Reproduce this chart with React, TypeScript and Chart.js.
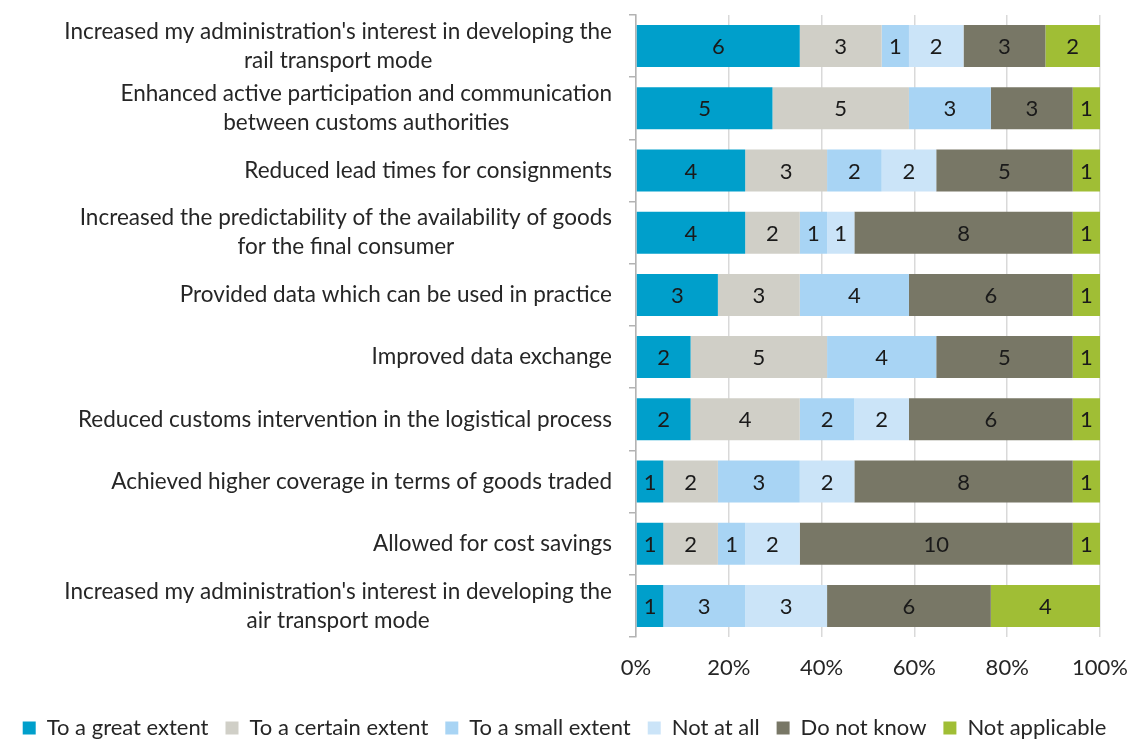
import React, { useEffect, useRef } from 'react';
import { Chart, registerables } from 'chart.js';

Chart.register(...registerables);

const categories: string[][] = [
  ["Increased my administration's interest in developing the", 'rail transport mode'],
  ['Enhanced active participation and communication', 'between customs authorities'],
  ['Reduced lead times for consignments'],
  ['Increased the predictability of the availability of goods', 'for the final consumer'],
  ['Provided data which can be used in practice'],
  ['Improved data exchange'],
  ['Reduced customs intervention in the logistical process'],
  ['Achieved higher coverage in terms of goods traded'],
  ['Allowed for cost savings'],
  ["Increased my administration's interest in developing the", 'air transport mode'],
];

const seriesNames = ['To a great extent', 'To a certain extent', 'To a small extent', 'Not at all', 'Do not know', 'Not applicable'];
const seriesColors = ['#009fcb', '#d0cfc7', '#a8d4f4', '#cbe4f8', '#787766', '#a0be35'];

const greatExtent = [6, 5, 4, 4, 3, 2, 2, 1, 1, 1];
const certainExtent = [3, 5, 3, 2, 3, 5, 4, 2, 2, 0];
const smallExtent = [1, 3, 2, 1, 4, 4, 2, 3, 1, 3];
const notAtAll = [2, 0, 2, 1, 0, 0, 2, 2, 2, 3];
const doNotKnow = [3, 3, 5, 8, 6, 5, 6, 8, 10, 6];
const notApplicable = [2, 1, 1, 1, 1, 1, 1, 1, 1, 4];

const xTickValues = [0, 20, 40, 60, 80, 100];

const FONT = 'Lato';
const FS = 22;
const TEXT = '#262626';

export default function App() {
  const ref = useRef<HTMLCanvasElement>(null);

  useEffect(() => {
    if (!ref.current) return;
    const seriesValues = [greatExtent, certainExtent, smallExtent, notAtAll, doNotKnow, notApplicable];
    const totals = categories.map((_, i) => seriesValues.reduce((s, arr) => s + arr[i], 0));

    const datasets = seriesValues.map((vals, k) => ({
      label: seriesNames[k],
      data: vals.map((v, i) => (v / totals[i]) * 100),
      backgroundColor: seriesColors[k],
      borderWidth: 0,
      barPercentage: 0.675,
      categoryPercentage: 1,
    }));

    const labelPlugin = {
      id: 'customLabels',
      afterDatasetsDraw(chart: any) {
        const ctx = chart.ctx;
        ctx.save();
        ctx.font = `${FS}px ${FONT}`;
        ctx.fillStyle = '#1a1a1a';
        ctx.textAlign = 'center';
        ctx.textBaseline = 'middle';
        chart.data.datasets.forEach((ds: any, k: number) => {
          const meta = chart.getDatasetMeta(k);
          meta.data.forEach((el: any, i: number) => {
            const raw = seriesValues[k][i];
            if (!raw) return;
            const cx = (el.x + el.base) / 2;
            ctx.fillText(String(raw), cx, el.y + 1);
          });
        });
        ctx.restore();
      },
      afterDraw(chart: any) {
        const ctx = chart.ctx;
        const yScale = chart.scales.y;
        const rightEdge = chart.chartArea.left - 24;
        const lineH = 29;
        ctx.save();
        ctx.font = `22.5px ${FONT}`;
        ctx.fillStyle = TEXT;
        ctx.textAlign = 'center';
        ctx.textBaseline = 'middle';
        categories.forEach((lines, i) => {
          const y = yScale.getPixelForTick(i);
          const w = Math.max(...lines.map((l) => ctx.measureText(l).width));
          const cx = rightEdge - w / 2;
          lines.forEach((l, j) => {
            ctx.fillText(l, cx, y + (j - (lines.length - 1) / 2) * lineH);
          });
        });
        ctx.restore();
      },
    };

    const chart = new Chart(ref.current, {
      type: 'bar',
      data: { labels: categories.map((c) => c.join(' ')), datasets },
      options: {
        indexAxis: 'y',
        animation: false,
        responsive: true,
        maintainAspectRatio: false,
        layout: { padding: { top: 15, right: 0, bottom: -9, left: 0 } },
        scales: {
          x: {
            stacked: true,
            min: 0,
            max: 100,
            afterBuildTicks: (s: any) => {
              s.ticks = xTickValues.map((v) => ({ value: v }));
            },
            afterFit: (s: any) => {
              s.height = 63;
              s.paddingRight = 29;
            },
            ticks: {
              callback: (v: any) => `${v}%`,
              font: { family: FONT, size: FS },
              color: TEXT,
              padding: 18,
            },
            grid: { color: '#d9d9d9', drawTicks: false, lineWidth: 1.5 },
            border: { display: false },
          },
          y: {
            stacked: true,
            ticks: { display: false },
            grid: { drawOnChartArea: false, drawTicks: true, tickLength: 7, color: '#b3b3b3', offset: true, lineWidth: 1.5 },
            border: { display: true, color: '#b3b3b3', width: 1.5 },
            afterFit: (s: any) => {
              s.width = 636;
            },
          },
        },
        plugins: {
          legend: {
            position: 'bottom',
            labels: {
              boxWidth: 13,
              boxHeight: 13,
              padding: 17,
              color: TEXT,
              font: { family: FONT, size: FS },
            },
          },
          tooltip: { enabled: false },
        },
      },
      plugins: [labelPlugin],
    } as any);

    return () => chart.destroy();
  }, []);

  return (
    <div style={{ position: 'fixed', left: 0, top: 0, width: 1129, height: 740, background: '#fff' }}>
      <canvas ref={ref} />
    </div>
  );
}
